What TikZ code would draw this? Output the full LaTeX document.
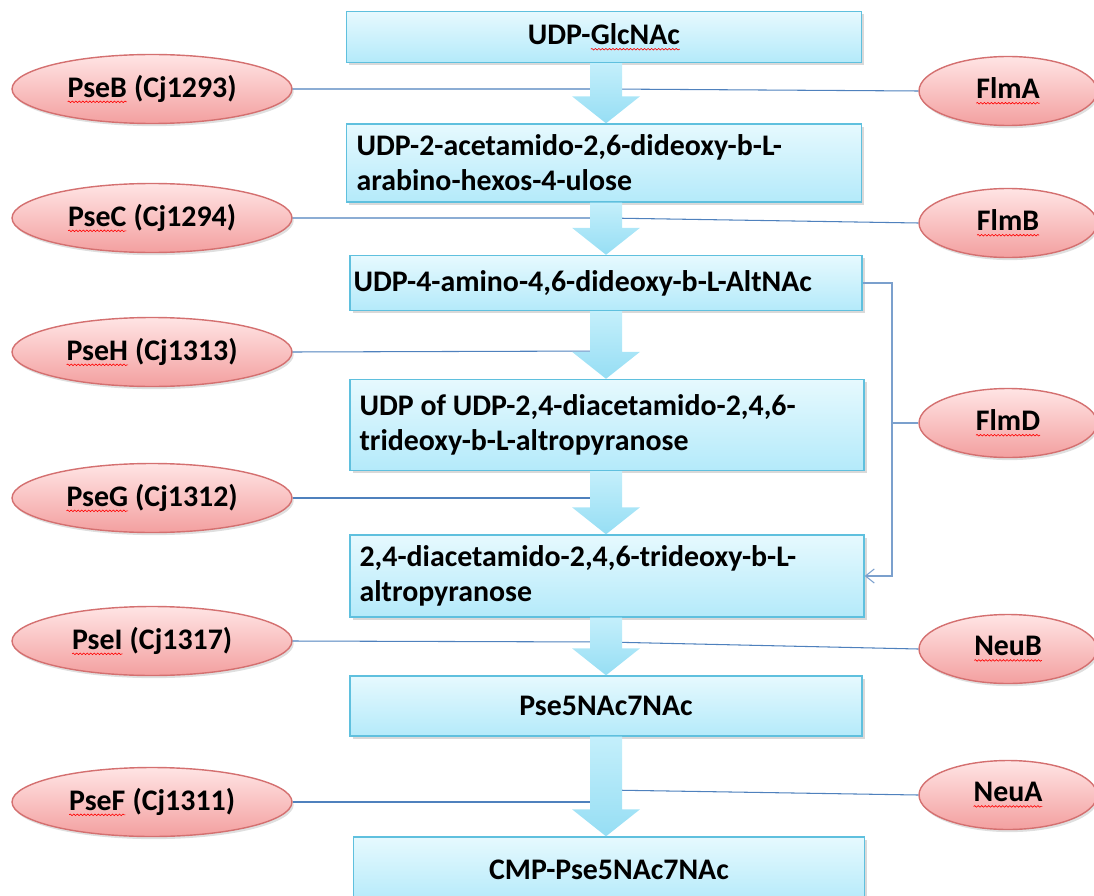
\documentclass[tikz,border=0pt]{standalone}
\usepackage{fontspec}
\setmainfont{Carlito}
\usetikzlibrary{shapes.geometric,shadows,calc,arrows.meta,decorations.pathmorphing}

\definecolor{boxline}{RGB}{95,192,222}
\definecolor{boxtop}{RGB}{230,249,254}
\definecolor{boxbot}{RGB}{180,234,250}
\definecolor{flowtop}{RGB}{196,239,251}
\definecolor{flowbot}{RGB}{150,222,244}
\definecolor{enzline}{RGB}{212,112,112}
\definecolor{enztop}{RGB}{255,228,228}
\definecolor{enzbot}{RGB}{243,160,160}
\definecolor{linkblue}{RGB}{79,129,189}

% red spell-check wave under a word
\newcommand{\spell}[1]{\tikz[x=1cm,y=1cm,baseline=(w.base)]{%
  \node[shape=rectangle,minimum width=0pt,minimum height=0pt,text width=,inner sep=0pt,outer sep=0pt] (w) {#1};
  \draw[red,line width=0.35pt,decorate,decoration={snake,amplitude=0.45pt,segment length=2pt}]
    ([yshift=-2.6pt]w.base west) -- ([yshift=-2.6pt]w.base east);}}

% block arrow from one compound to the next
\newcommand{\stepdown}[2]{%
  \coordinate (st) at (#1.south -| ax);
  \coordinate (sh) at (#2.north -| ax);
  \shade[flow] ($(st)+(-16,0)$) -- ($(sh)+(-16,-27)$) -- ($(sh)+(-34,-27)$)
    -- (sh) -- ($(sh)+(34,-27)$) -- ($(sh)+(16,-27)$) -- ($(st)+(16,0)$) -- cycle;}

\begin{document}
\begin{tikzpicture}[x=0.02cm,y=-0.02cm,
    compound/.style={draw=boxline,line width=0.8pt,top color=boxtop,bottom color=boxbot,
      drop shadow={shadow xshift=1.5pt,shadow yshift=-1.5pt,opacity=0.3},
      inner sep=0pt,font=\bfseries\fontsize{17}{20}\selectfont},
    enzyme/.style={ellipse,draw=enzline,line width=0.8pt,top color=enztop,bottom color=enzbot,
      drop shadow={shadow xshift=1pt,shadow yshift=-1.5pt,opacity=0.25},
      minimum height=1.38cm,inner sep=0pt,font=\bfseries\fontsize{17}{20}\selectfont},
    leftenz/.style={enzyme,minimum width=5.6cm},
    rightenz/.style={enzyme,minimum width=3.56cm},
    flow/.style={top color=flowtop,bottom color=flowbot,draw=none},
    link/.style={draw=linkblue,line width=0.6pt}]
    \useasboundingbox (0,0) rectangle (1094,895);
    \coordinate (ax) at (606,0);
    \coordinate (bx) at (892,0);

    % compounds
    \node[compound,minimum width=10.3cm,minimum height=1.02cm] (glc) at (604,37) {UDP-\spell{GlcNAc}};
    \node[compound,minimum width=10.3cm,minimum height=1.56cm,text width=9.9cm,align=left] (ulose) at (604,163)
        {UDP-2-acetamido-2,6-dideoxy-b-L-\\arabino-hexos-4-ulose};
    \node[compound,minimum width=10.24cm,minimum height=1.1cm,text width=10.1cm,align=left] (amino) at (606,283)
        {UDP-4-amino-4,6-dideoxy-b-L-AltNAc};
    \node[compound,minimum width=10.28cm,minimum height=1.82cm,text width=9.9cm,align=left] (udpalt) at (607,425)
        {\spaceskip=0pt UDP of UDP-2,4-diacetamido-2,4,6-\\trideoxy-b-L-altropyranose};
    \node[compound,minimum width=10.28cm,minimum height=1.64cm,text width=9.9cm,align=left] (alt) at (607,576)
        {2,4-diacetamido-2,4,6-trideoxy-b-L-\\altropyranose};
    \node[compound,minimum width=10.24cm,minimum height=1.2cm] (pse) at (606,706) {Pse5NAc7NAc};
    \node[compound,minimum width=10.22cm,minimum height=1.32cm] (cmp) at (609,870) {CMP-Pse5NAc7NAc};

    % enzymes, left
    \node[leftenz] (pseB) at (152,89) {\spell{PseB} (Cj1293)};
    \node[leftenz] (pseC) at (152,218) {\spell{PseC} (Cj1294)};
    \node[leftenz] (pseH) at (152,352) {\spell{PseH} (Cj1313)};
    \node[leftenz] (pseG) at (152,498) {\spell{PseG} (Cj1312)};
    \node[leftenz] (pseI) at (152,641) {\spell{PseI} (Cj1317)};
    \node[leftenz] (pseF) at (152,802) {\spell{PseF} (Cj1311)};

    % enzymes, right
    \node[rightenz] (flmA) at (1008,91) {\spell{FlmA}};
    \node[rightenz] (flmB) at (1008,223) {\spell{FlmB}};
    \node[rightenz] (flmD) at (1008,423) {\spell{FlmD}};
    \node[rightenz] (neuB) at (1008,649) {\spell{NeuB}};
    \node[rightenz] (neuA) at (1008,795) {\spell{NeuA}};

    % enzyme links to the steps
    \coordinate (s1) at (606,89);
    \coordinate (s2) at (606,218);
    \coordinate (s3) at (606,351);
    \coordinate (s4) at (606,498);
    \coordinate (s5) at (606,642);
    \coordinate (s6) at (606,802);
    \coordinate (s6r) at (606,790);
    \draw[link] (pseB.east) -- (s1) -- (flmA.west);
    \draw[link] (pseC.east) -- (s2) -- (flmB.west);
    \draw[link] (pseH.east) -- (s3);
    \draw[link] (pseG.east) -- (s4);
    \draw[link] (pseI.east) -- (s5) -- (neuB.west);
    \draw[link] (pseF.east) -- (s6);
    \draw[link] (neuA.west) -- (s6r);

    % FlmD bypass
    \draw[link,draw=linkblue!75,-{Straight Barb[length=5pt,width=8pt]}] (amino.east) -- (amino.east -| bx) |- (alt.east);
    \draw[link,draw=linkblue!75] (flmD.west) -- (flmD.west -| bx);

    % block arrows
    \stepdown{glc}{ulose}
    \stepdown{ulose}{amino}
    \stepdown{amino}{udpalt}
    \stepdown{udpalt}{alt}
    \stepdown{alt}{pse}
    \stepdown{pse}{cmp}
\end{tikzpicture}
\end{document}
